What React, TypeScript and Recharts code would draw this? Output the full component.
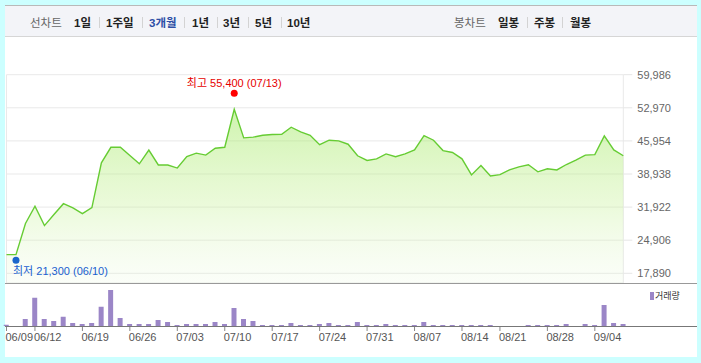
import React from 'react';
import { AreaChart, Area, BarChart, Bar, XAxis, YAxis, CartesianGrid, ReferenceDot } from 'recharts';

// trading days shown on the 3-month view
const dates = [
  '06/09', '06/10', '06/11',
  '06/12', '06/13', '06/14', '06/15', '06/16',
  '06/19', '06/20', '06/21', '06/22', '06/23',
  '06/26', '06/27', '06/28', '06/29', '06/30',
  '07/03', '07/04', '07/05', '07/06', '07/07',
  '07/10', '07/11', '07/12', '07/13', '07/14',
  '07/17', '07/18', '07/19', '07/20', '07/21',
  '07/24', '07/25', '07/26', '07/27', '07/28',
  '07/31', '08/01', '08/02', '08/03', '08/04',
  '08/07', '08/08', '08/09', '08/10', '08/11',
  '08/14', '08/16', '08/17', '08/18',
  '08/21', '08/22', '08/23', '08/24', '08/25',
  '08/28', '08/29', '08/30', '08/31', '09/01',
  '09/04', '09/05', '09/06', '09/07',
];

// closing price (won)
const closes = [
  21850, 21850, 28450,
  32100, 28000, 30350, 32650, 31750,
  30550, 31800, 41300, 44600, 44600,
  42850, 41100, 44000, 40850, 40850,
  40200, 42650, 43350, 42950, 44400,
  44600, 52650, 46600, 46750, 47150,
  47300, 47350, 48850, 47850, 47150,
  45150, 46100, 45950, 45250, 42800,
  41800, 42150, 43200, 42600, 43200,
  44050, 47050, 46100, 43900, 43500,
  42150, 38750, 40750, 38500,
  38800, 39800, 40450, 40900, 39400,
  40050, 39800, 40950, 41900, 42950,
  43050, 47000, 44050, 42800,
];

// volume (thousand shares)
const volumes = [
  50, 0, 280,
  1130, 280, 200, 370, 120,
  80, 120, 770, 1440, 320,
  80, 80, 80, 240, 160,
  40, 80, 80, 80, 160,
  80, 720, 280, 200, 40,
  40, 40, 120, 40, 40,
  80, 120, 40, 40, 160,
  40, 40, 80, 40, 40,
  40, 160, 40, 40, 40,
  40, 40, 40, 40,
  0, 0, 0, 40, 40,
  40, 40, 80, 0, 80,
  40, 840, 120, 80,
];

const dateTicks = ['06/09', '06/12', '06/19', '06/26', '07/03', '07/10', '07/17', '07/24', '07/31', '08/07', '08/14', '08/21', '08/28', '09/04'];
const priceTicks = [17890, 24906, 31922, 38938, 45954, 52970, 59986];

const highMark = { date: '07/11', price: 55400, text: '최고 55,400 (07/13)' };
const lowMark = { date: '06/10', price: 21300, text: '최저 21,300 (06/10)' };

const rows = dates.map((d, i) => ({ date: d, price: closes[i], volume: volumes[i] }));

const FONT = "'Liberation Sans', 'Noto Sans CJK KR', Arial, sans-serif";

const HighShape = (p: any) => (
  <g>
    <circle cx={p.cx} cy={p.cy - 3} r={3.5} fill="#ff0000" />
    <text x={p.cx} y={p.cy - 9} textAnchor="middle" fill="#e60000" fontSize={11} fontFamily={FONT}>
      {highMark.text}
    </text>
  </g>
);

const LowShape = (p: any) => (
  <g>
    <circle cx={p.cx} cy={p.cy + 3} r={3.5} fill="#1a66cc" />
    <text x={p.cx - 3} y={p.cy + 18} textAnchor="start" fill="#1a5fd0" fontSize={11} fontFamily={FONT}>
      {lowMark.text}
    </text>
  </g>
);

const VolTick = ({ x, y, payload }: any) => (
  <text x={x - 1} y={y} dy="0.71em" textAnchor="start" fill="#555" fontSize={11} fontFamily={FONT}>
    {payload.value}
  </text>
);

const tabStyle: React.CSSProperties = {
  position: 'absolute', top: 16, height: 14, lineHeight: '14px', fontSize: 11.5,
  fontFamily: FONT, fontWeight: 'bold', color: '#222', whiteSpace: 'nowrap',
};
const sepStyle: React.CSSProperties = {
  position: 'absolute', top: 17, width: 1, height: 11, background: '#d3d3d3',
};

const periodTabs = [
  { t: '1일', x: 74 }, { t: '1주일', x: 106 }, { t: '3개월', x: 149, on: true }, { t: '1년', x: 192 },
  { t: '3년', x: 223 }, { t: '5년', x: 255 }, { t: '10년', x: 287 },
];
const periodSeps = [99, 142, 184, 217, 248, 281];
const candleTabs = [{ t: '일봉', x: 498 }, { t: '주봉', x: 534 }, { t: '월봉', x: 570 }];
const candleSeps = [527, 562];

export default function App() {
  return (
    <div style={{ position: 'absolute', left: 0, top: 0, width: 701, height: 363, background: '#ccffff', overflow: 'hidden' }}>
      <div style={{ position: 'absolute', left: 5, top: 5, width: 692, height: 352, background: '#fff' }} />
      <div style={{ position: 'absolute', left: 5, top: 5, width: 692, height: 30, background: '#f3f4f8', borderTop: '1px solid #b9b9b9', borderBottom: '1px solid #d6d6d6' }} />
      <div style={{ ...tabStyle, left: 30, fontWeight: 'normal', color: '#666' }}>선차트</div>
      {periodTabs.map((p) => (
        <div key={p.t} style={{ ...tabStyle, left: p.x, color: p.on ? '#2d4fa6' : '#222' }}>{p.t}</div>
      ))}
      {periodSeps.map((x) => <div key={x} style={{ ...sepStyle, left: x }} />)}
      <div style={{ ...tabStyle, left: 454, fontWeight: 'normal', color: '#666' }}>봉차트</div>
      {candleTabs.map((p) => (
        <div key={p.t} style={{ ...tabStyle, left: p.x }}>{p.t}</div>
      ))}
      {candleSeps.map((x) => <div key={x} style={{ ...sepStyle, left: x }} />)}

      <div style={{ position: 'absolute', left: 0, top: 37 }}>
        <AreaChart width={701} height={246} data={rows} margin={{ top: 37.7, right: 17.7, bottom: 0, left: 6.5 }}>
          <defs>
            <linearGradient id="gradPrice" x1="0" y1="0" x2="0" y2="1">
              <stop offset="0%" stopColor="#a0e860" stopOpacity={0.85} />
              <stop offset="55%" stopColor="#c2f08f" stopOpacity={0.55} />
              <stop offset="100%" stopColor="#e3f7d3" stopOpacity={0.25} />
            </linearGradient>
          </defs>
          <CartesianGrid stroke="#e9e9e9" strokeWidth={1} />
          <XAxis dataKey="date" ticks={dateTicks} interval={0} height={0} tick={false} tickLine={false} axisLine={false} padding={{ left: 0, right: 0 }} />
          <YAxis
            orientation="right"
            width={60}
            domain={[15834, 59986]}
            ticks={priceTicks}
            interval={0}
            tickFormatter={(v: number) => v.toLocaleString('en-US')}
            tick={{ fill: '#666', fontSize: 11, fontFamily: FONT }}
            tickLine={{ stroke: '#e6e6e6' }}
            tickSize={9}
            tickMargin={5}
            axisLine={false}
          />
          <Area type="linear" dataKey="price" stroke="#66cc33" strokeWidth={1.4} fill="url(#gradPrice)" isAnimationActive={false} dot={false} activeDot={false} />
          <ReferenceDot x={highMark.date} y={highMark.price} shape={HighShape} />
          <ReferenceDot x={lowMark.date} y={lowMark.price} shape={LowShape} />
        </AreaChart>
      </div>
      <div style={{ position: 'absolute', left: 5, top: 283, width: 692, height: 1, background: '#999' }} />

      <div style={{ position: 'absolute', left: 0, top: 283 }}>
        <BarChart width={701} height={80} data={rows} margin={{ top: 0, right: 72.95, bottom: 7, left: 1.75 }}>
          <XAxis dataKey="date" ticks={dateTicks} interval={0} height={30} axisLine={false} tickLine={{ stroke: '#888' }} tickSize={5} tickMargin={2} tick={<VolTick />} />
          <YAxis hide domain={[0, 1720]} />
          <Bar dataKey="volume" fill="#9b86c7" barSize={5} isAnimationActive={false} />
        </BarChart>
      </div>
      <div style={{ position: 'absolute', left: 5, top: 326, width: 692, height: 1, background: '#777' }} />
      <div style={{ position: 'absolute', left: 650, top: 292, width: 4, height: 8, background: '#9b86c7' }} />
      <div style={{ position: 'absolute', left: 655, top: 290, fontSize: 9, lineHeight: '12px', fontFamily: FONT, color: '#333' }}>거래량</div>
    </div>
  );
}
